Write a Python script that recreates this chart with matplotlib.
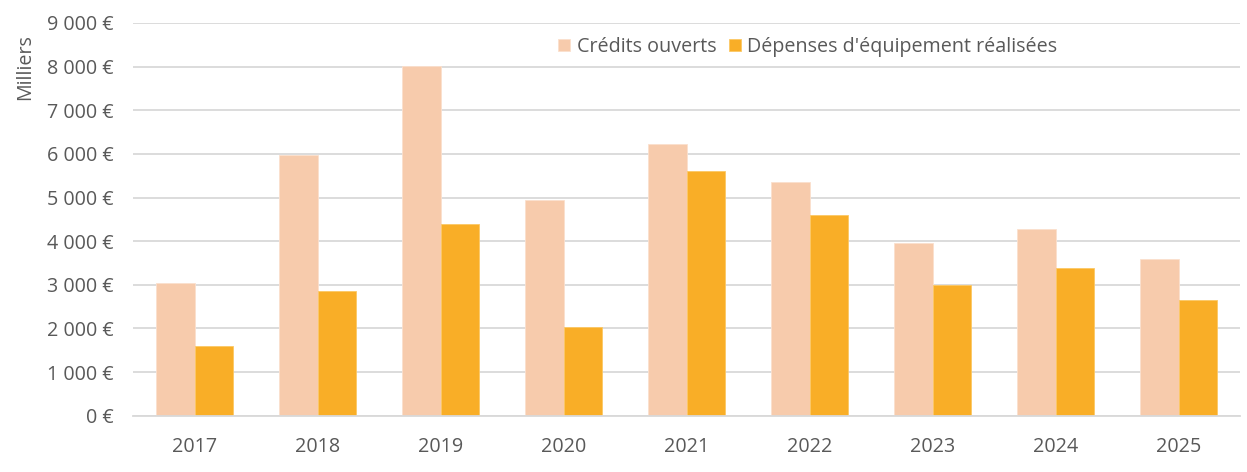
import matplotlib
matplotlib.use("Agg")
import matplotlib.pyplot as plt
import numpy as np

years = ["2017", "2018", "2019", "2020", "2021", "2022", "2023", "2024", "2025"]
credits_ouverts = [3030, 5970, 8010, 4940, 6230, 5350, 3950, 4280, 3600]
depenses_realisees = [1600, 2860, 4385, 2025, 5610, 4590, 3005, 3390, 2660]
y_ticks = [0, 1000, 2000, 3000, 4000, 5000, 6000, 7000, 8000, 9000]
y_tick_labels = ["0 €", "1 000 €", "2 000 €", "3 000 €", "4 000 €",
                 "5 000 €", "6 000 €", "7 000 €", "8 000 €", "9 000 €"]
series_names = ["Crédits ouverts", "Dépenses d'équipement réalisées"]

plt.rcParams['font.family'] = ['Open Sans', 'DejaVu Sans']
text_color = "#595959"
grid_color = "#D9D9D9"
fs = 14.2

fig = plt.figure(figsize=(12.47, 4.72), dpi=100)
ax = fig.add_axes([0.1067, 0.1193, 0.8877, 0.832])

x = np.arange(len(years))
w = 0.31
ax.bar(x - w / 2, credits_ouverts, width=w, color="#F7CBAC",
       edgecolor="#FBE0CD", linewidth=0.6, label=series_names[0], zorder=3)
ax.bar(x + w / 2, depenses_realisees, width=w, color="#F9AE27",
       edgecolor="#FCC865", linewidth=0.6, label=series_names[1], zorder=3)

ax.set_xlim(-0.5, len(years) - 0.5)
ax.set_ylim(0, 9000)
ax.set_yticks(y_ticks)
ax.set_yticklabels(y_tick_labels)
ax.set_xticks(x)
ax.set_xticklabels(years)
ax.tick_params(axis="both", length=0, labelsize=fs, colors=text_color)
ax.tick_params(axis="y", pad=14)
ax.tick_params(axis="x", pad=15)

ax.yaxis.grid(True, color=grid_color, linewidth=1.3, zorder=0)
ax.set_axisbelow(True)
for s in ["top", "right", "left"]:
    ax.spines[s].set_visible(False)
ax.spines["bottom"].set_color(grid_color)
ax.spines["bottom"].set_linewidth(1.3)
ax.spines["bottom"].set_zorder(4)

fig.text(25 / 1247, 1 - 67 / 472, "Milliers", rotation=90, ha="center",
         va="center", fontsize=fs, color=text_color)

leg = ax.legend(loc="center", bbox_to_anchor=(808 / 1247, 1 - 47 / 472),
                bbox_transform=fig.transFigure, ncol=2, frameon=True,
                facecolor="white", edgecolor="none", framealpha=1,
                fontsize=fs, handlelength=0.6, handleheight=0.6,
                handletextpad=0.35, columnspacing=0.6, borderpad=0.2)
for t in leg.get_texts():
    t.set_color(text_color)

fig.savefig("out.png", dpi=100, facecolor="white")
